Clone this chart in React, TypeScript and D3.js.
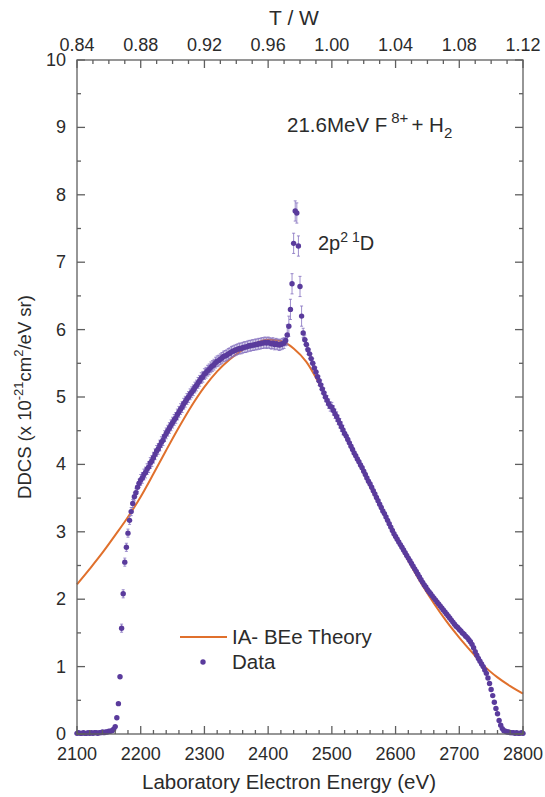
import React from "react";
import * as d3 from "d3";

// ---------- DATA ----------
const dataStart = 2100; // eV
const dataStep = 2.5; // eV
// DDCS values, rows of 10 points (25 eV each)
const dataValues: number[] = [
  // 2100
  0.01, 0.02, 0.01, 0.01, 0.02, 0.01, 0.01, 0.02, 0.01, 0.02,
  // 2125
  0.01, 0.02, 0.02, 0.01, 0.02, 0.02, 0.03, 0.02, 0.03, 0.03,
  // 2150
  0.04, 0.04, 0.05, 0.07, 0.11, 0.24, 0.45, 0.85, 1.57, 2.08,
  // 2175
  2.55, 2.77, 2.98, 3.17, 3.3, 3.42, 3.52, 3.58, 3.66, 3.72,
  // 2200
  3.77, 3.8, 3.85, 3.88, 3.93, 3.96, 4.02, 4.05, 4.1, 4.15,
  // 2225
  4.2, 4.23, 4.28, 4.33, 4.36, 4.42, 4.46, 4.5, 4.54, 4.58,
  // 2250
  4.62, 4.66, 4.69, 4.74, 4.78, 4.82, 4.85, 4.9, 4.93, 4.97,
  // 2275
  5.0, 5.04, 5.07, 5.1, 5.14, 5.17, 5.21, 5.24, 5.28, 5.3,
  // 2300
  5.34, 5.36, 5.39, 5.41, 5.44, 5.46, 5.48, 5.51, 5.53, 5.54,
  // 2325
  5.56, 5.58, 5.6, 5.61, 5.62, 5.64, 5.65, 5.67, 5.68, 5.69,
  // 2350
  5.7, 5.71, 5.72, 5.72, 5.73, 5.74, 5.74, 5.75, 5.76, 5.76,
  // 2375
  5.77, 5.77, 5.78, 5.78, 5.79, 5.79, 5.8, 5.8, 5.81, 5.8,
  // 2400
  5.81, 5.8, 5.79, 5.8, 5.78, 5.79, 5.78, 5.77, 5.78, 5.79,
  // 2425
  5.8, 5.84, 5.92, 6.05, 6.3, 6.68, 7.28, 7.76, 7.73, 7.24,
  // 2450
  6.64, 6.2, 5.95, 5.85, 5.78, 5.7, 5.64, 5.57, 5.5, 5.43,
  // 2475
  5.37, 5.3, 5.24, 5.18, 5.12, 5.06, 5.0, 4.95, 4.9, 4.86,
  // 2500
  4.85, 4.8, 4.75, 4.71, 4.66, 4.61, 4.56, 4.51, 4.46, 4.42,
  // 2525
  4.37, 4.32, 4.27, 4.22, 4.17, 4.13, 4.08, 4.04, 3.99, 3.95,
  // 2550
  3.9, 3.85, 3.8, 3.75, 3.71, 3.66, 3.61, 3.56, 3.51, 3.46,
  // 2575
  3.41, 3.36, 3.31, 3.27, 3.22, 3.17, 3.12, 3.07, 3.02, 2.97,
  // 2600
  2.93, 2.89, 2.85, 2.81, 2.77, 2.73, 2.69, 2.65, 2.61, 2.57,
  // 2625
  2.53, 2.49, 2.45, 2.41, 2.37, 2.33, 2.29, 2.25, 2.21, 2.18,
  // 2650
  2.14, 2.11, 2.08, 2.05, 2.02, 1.99, 1.96, 1.93, 1.9, 1.87,
  // 2675
  1.84, 1.81, 1.78, 1.75, 1.72, 1.69, 1.66, 1.63, 1.6, 1.58,
  // 2700
  1.55, 1.53, 1.5, 1.48, 1.45, 1.43, 1.4, 1.37, 1.33, 1.28,
  // 2725
  1.22, 1.17, 1.12, 1.08, 1.04, 1.0, 0.95, 0.9, 0.83, 0.75,
  // 2750
  0.66, 0.57, 0.47, 0.38, 0.3, 0.2, 0.13, 0.08, 0.05, 0.04,
  // 2775
  0.03, 0.03, 0.02, 0.02, 0.02, 0.01, 0.02, 0.01, 0.01, 0.02,
  // 2800
  0.01,
];

// error-bar half-widths by energy band [from, to, error]
const errorBands: [number, number, number][] = [
  [2100, 2170, 0.02],
  [2170, 2200, 0.06],
  [2200, 2430, 0.08],
  [2430, 2455, 0.15],
  [2455, 2520, 0.07],
  [2520, 2801, 0.03],
];

const theoryEnergy = [
  2100, 2120, 2140, 2160, 2180, 2200, 2220, 2240, 2260, 2280, 2300, 2320,
  2340, 2360, 2380, 2400, 2420, 2440, 2460, 2480, 2500, 2520, 2540, 2560,
  2580, 2600, 2620, 2640, 2660, 2680, 2700, 2720, 2740, 2760, 2780, 2800,
];
const theoryValue = [
  2.22, 2.45, 2.69, 2.95, 3.22, 3.52, 3.86, 4.21, 4.55, 4.87, 5.15, 5.38,
  5.56, 5.7, 5.8, 5.85, 5.83, 5.72, 5.52, 5.2, 4.83, 4.45, 4.06, 3.67,
  3.29, 2.92, 2.57, 2.24, 1.94, 1.67, 1.43, 1.21, 1.0, 0.84, 0.71, 0.6,
];

const xMajorTicks = [2100, 2200, 2300, 2400, 2500, 2600, 2700, 2800];
const topMajorTicks = [0.84, 0.88, 0.92, 0.96, 1.0, 1.04, 1.08, 1.12];
const yMajorTicks = [0, 1, 2, 3, 4, 5, 6, 7, 8, 9, 10];

// ---------- LAYOUT ----------
const W = 545;
const H = 797;
const left = 77;
const right = 523;
const top = 60;
const bottom = 734;
const FONT = "'Liberation Sans', Arial, Helvetica, sans-serif";
const TEXT = "#2b2b2b";
const AXIS = "#5f5f5f";
const PURPLE = "#5a3b9c";
const ERR = "#8470bf";
const ORANGE = "#e0702c";

export default function App() {
  const x = d3.scaleLinear().domain([2100, 2800]).range([left, right]);
  const xt = d3.scaleLinear().domain([0.84, 1.12]).range([left, right]);
  const y = d3.scaleLinear().domain([0, 10]).range([bottom, top]);

  const data = dataValues.map((v, i) => ({ e: dataStart + i * dataStep, v }));
  const errFor = (e: number) => {
    const b = errorBands.find((b) => e >= b[0] && e < b[1]);
    return b ? b[2] : 0.02;
  };

  const theory = theoryEnergy.map((e, i) => ({ e, v: theoryValue[i] }));
  const line = d3
    .line<{ e: number; v: number }>()
    .x((d) => x(d.e))
    .y((d) => y(d.v))
    .curve(d3.curveMonotoneX);

  const xMinor = d3.range(2100, 2801, 20).filter((t) => !xMajorTicks.includes(t));
  const topMinor = d3
    .range(84, 113, 1)
    .map((t) => t / 100)
    .filter((t) => !topMajorTicks.some((m) => Math.abs(m - t) < 1e-6));
  const yMinor = d3.range(0.5, 10, 1);

  const MAJ = 8;
  const MIN = 4;

  return (
    <svg
      width={W}
      height={H}
      style={{ position: "absolute", left: 0, top: 0, background: "#fff" }}
      fontFamily={FONT}
    >
      <rect x={0} y={0} width={W} height={H} fill="#fff" />
      {/* Theory */}
      <path d={line(theory) || ""} fill="none" stroke={ORANGE} strokeWidth={2} />

      {/* error bars */}
      {data.map((d, i) => {
        const er = errFor(d.e);
        if (er < 0.05) return null;
        const cx = x(d.e);
        return (
          <g key={"e" + i} stroke={ERR} strokeWidth={0.8}>
            <line x1={cx} x2={cx} y1={y(d.v + er)} y2={y(d.v - er)} />
            <line x1={cx - 1.5} x2={cx + 1.5} y1={y(d.v + er)} y2={y(d.v + er)} />
            <line x1={cx - 1.5} x2={cx + 1.5} y1={y(d.v - er)} y2={y(d.v - er)} />
          </g>
        );
      })}
      {/* data points */}
      {data.map((d, i) => (
        <circle key={"d" + i} cx={x(d.e)} cy={y(d.v)} r={2.7} fill={PURPLE} />
      ))}

      {/* frame */}
      <rect
        x={left}
        y={top}
        width={right - left}
        height={bottom - top}
        fill="none"
        stroke={AXIS}
        strokeWidth={1.3}
      />

      {/* bottom ticks */}
      {xMajorTicks.map((t) => (
        <line key={"bx" + t} x1={x(t)} x2={x(t)} y1={bottom} y2={bottom - MAJ} stroke={AXIS} strokeWidth={1.3} />
      ))}
      {xMinor.map((t) => (
        <line key={"bm" + t} x1={x(t)} x2={x(t)} y1={bottom} y2={bottom - MIN} stroke={AXIS} strokeWidth={1.3} />
      ))}
      {xMajorTicks.map((t) => (
        <text key={"bl" + t} x={x(t)} y={760} textAnchor="middle" fontSize={18} fill={TEXT}>
          {t}
        </text>
      ))}

      {/* top ticks */}
      {topMajorTicks.map((t) => (
        <line key={"tx" + t} x1={xt(t)} x2={xt(t)} y1={top} y2={top + MAJ} stroke={AXIS} strokeWidth={1.3} />
      ))}
      {topMinor.map((t) => (
        <line key={"tm" + t} x1={xt(t)} x2={xt(t)} y1={top} y2={top + MIN} stroke={AXIS} strokeWidth={1.3} />
      ))}
      {topMajorTicks.map((t) => (
        <text key={"tl" + t} x={xt(t)} y={51} textAnchor="middle" fontSize={18} fill={TEXT}>
          {t.toFixed(2)}
        </text>
      ))}

      {/* left & right ticks */}
      {yMajorTicks.map((t) => (
        <g key={"y" + t} stroke={AXIS} strokeWidth={1.3}>
          <line x1={left} x2={left + MAJ} y1={y(t)} y2={y(t)} />
          <line x1={right} x2={right - MAJ} y1={y(t)} y2={y(t)} />
        </g>
      ))}
      {yMinor.map((t) => (
        <g key={"ym" + t} stroke={AXIS} strokeWidth={1.3}>
          <line x1={left} x2={left + MIN} y1={y(t)} y2={y(t)} />
          <line x1={right} x2={right - MIN} y1={y(t)} y2={y(t)} />
        </g>
      ))}
      {yMajorTicks.map((t) => (
        <text key={"yl" + t} x={66} y={y(t) + 6} textAnchor="end" fontSize={18} fill={TEXT}>
          {t}
        </text>
      ))}

      {/* axis titles */}
      <text x={289} y={789} textAnchor="middle" fontSize={20.5} fill={TEXT}>
        Laboratory Electron Energy (eV)
      </text>
      <text x={294} y={25} textAnchor="middle" fontSize={21} fill={TEXT}>
        T / W
      </text>
      <text transform={`translate(31,${(top + bottom) / 2}) rotate(-90)`} textAnchor="middle" fontSize={18.5} fill={TEXT}>
        DDCS (x 10
        <tspan dy={-8} fontSize={13}>-21</tspan>
        <tspan dy={8}>cm</tspan>
        <tspan dy={-8} fontSize={13}>2</tspan>
        <tspan dy={8}>/eV sr)</tspan>
      </text>

      {/* annotations */}
      <text x={287} y={132} fontSize={20.5} fill={TEXT}>
        21.6MeV F
        <tspan dx={4} dy={-9} fontSize={15}>8+</tspan>
        <tspan dx={3} dy={9}>+ H</tspan>
        <tspan dy={6} fontSize={15}>2</tspan>
      </text>
      <text x={318} y={250} fontSize={20} fill={TEXT}>
        2p
        <tspan dy={-8} fontSize={14}>2 1</tspan>
        <tspan dy={8}>D</tspan>
      </text>

      {/* legend */}
      <line x1={180} x2={227} y1={637} y2={637} stroke={ORANGE} strokeWidth={2} />
      <text x={232} y={644} fontSize={20.5} fill={TEXT}>IA- BEe Theory</text>
      <circle cx={203} cy={662} r={2.7} fill={PURPLE} />
      <text x={232} y={669} fontSize={20.5} fill={TEXT}>Data</text>
    </svg>
  );
}
